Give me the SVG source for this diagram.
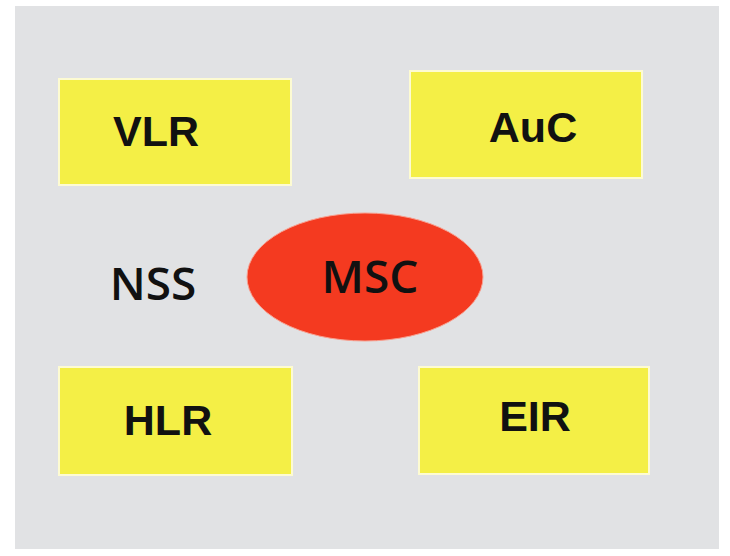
<svg xmlns="http://www.w3.org/2000/svg" width="730" height="556" viewBox="0 0 730 556">
  <style>
    .box { fill: #f4ef46; stroke: #fdfbd2; stroke-width: 2; }
    .lbl { font-family: "Liberation Sans", Arial, sans-serif; font-weight: bold; font-size: 43px; fill: #111; text-anchor: middle; }
    .lbl2 { font-family: "Open Sans", "Liberation Sans", sans-serif; font-weight: 600; font-size: 46px; fill: #111; text-anchor: middle; }
  </style>
  <rect x="0" y="0" width="730" height="556" fill="#ffffff"/>
  <rect x="15" y="6" width="704" height="543" fill="#e1e2e4"/>
  <g id="connectors"></g>
  <g id="vlr">
    <rect class="box" x="59" y="79" width="232" height="106"/>
    <text class="lbl" x="156" y="146">VLR</text>
  </g>
  <g id="auc">
    <rect class="box" x="410" y="71" width="232" height="107"/>
    <text class="lbl" x="533" y="142">AuC</text>
  </g>
  <g id="hlr">
    <rect class="box" x="59" y="367" width="233" height="108"/>
    <text class="lbl" x="168" y="435">HLR</text>
  </g>
  <g id="eir">
    <rect class="box" x="419" y="367" width="230" height="107"/>
    <text class="lbl" x="535" y="431">EIR</text>
  </g>
  <g id="nss">
    <text class="lbl2" x="153" y="300">NSS</text>
  </g>
  <g id="msc">
    <ellipse cx="365" cy="277" rx="118" ry="64" fill="#f43a20" stroke="#f8a090" stroke-width="1"/>
    <text class="lbl2" x="370" y="293">MSC</text>
  </g>
</svg>
